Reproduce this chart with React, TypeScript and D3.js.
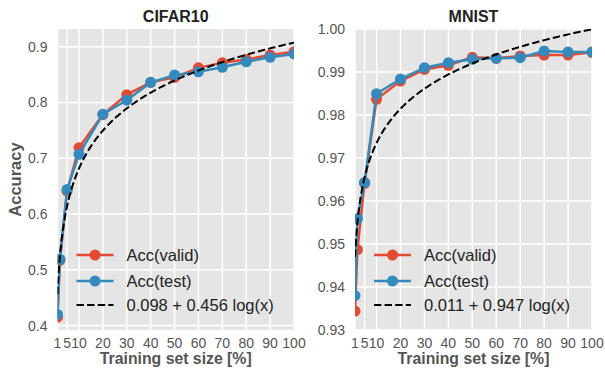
import React from "react";
import * as d3 from "d3";

// training set sizes in percent
const sizes = [1, 2, 5, 10, 20, 30, 40, 50, 60, 70, 80, 90, 100];
const xTicks = [1, 5, 10, 20, 30, 40, 50, 60, 70, 80, 90, 100];

const cifarValid = [0.415, 0.517, 0.641, 0.719, 0.778, 0.814, 0.836, 0.845, 0.862, 0.871, 0.877, 0.885, 0.891];
const cifarTest = [0.42, 0.519, 0.644, 0.707, 0.779, 0.804, 0.836, 0.849, 0.855, 0.863, 0.873, 0.881, 0.887];
const cifarTicks = [0.4, 0.5, 0.6, 0.7, 0.8, 0.9];
const cifarFit = { a: 0.456, b: 0.098, label: "0.098 + 0.456 log(x)" };

const mnistValid = [0.9344, 0.9487, 0.9641, 0.98365, 0.9879, 0.9906, 0.99156, 0.99342, 0.9932, 0.99372, 0.99395, 0.99395, 0.99458];
const mnistTest = [0.938, 0.9559, 0.9643, 0.98495, 0.98837, 0.991, 0.99216, 0.99295, 0.9932, 0.99333, 0.99488, 0.99465, 0.99465];
const mnistTicks = [0.93, 0.94, 0.95, 0.96, 0.97, 0.98, 0.99, 1.0];
const mnistFit = { a: 0.947, b: 0.0115, label: "0.011 + 0.947 log(x)" };

const RED = "#E24A33";
const BLUE = "#348ABD";
const FONT = "'Liberation Sans', Arial, Helvetica, sans-serif";

type PanelProps = {
  id: string;
  title: string;
  left: number;
  right: number;
  yDomain: [number, number];
  yTicks: number[];
  yFormat: string;
  valid: number[];
  test: number[];
  fit: { a: number; b: number; label: string };
  legendX: number;
  yLabel?: string;
};

const top = 29;
const bottom = 330;

const Panel = (p: PanelProps) => {
  const x = d3.scaleLinear().domain([1, 100]).range([p.left, p.right]);
  const y = d3.scaleLinear().domain(p.yDomain).range([bottom, top]);
  const fmt = d3.format(p.yFormat);

  const line = d3
    .line<number>()
    .x((_, i) => x(sizes[i]))
    .y((d) => y(d));

  // fitted curve a + b*ln(x)
  const fitXs = d3.range(1, 100.5, 0.5);
  const fitLine = d3
    .line<number>()
    .x((d) => x(d))
    .y((d) => y(p.fit.a + p.fit.b * Math.log(d)));

  const rows = [255, 281, 305];
  const lx = p.legendX;

  return (
    <g>
      <defs>
        <clipPath id={p.id}>
          <rect x={p.left} y={top} width={p.right - p.left} height={bottom - top} />
        </clipPath>
      </defs>
      <rect x={p.left} y={top} width={p.right - p.left} height={bottom - top} fill="#E5E5E5" />
      {xTicks.map((t) => (
        <line key={"gx" + t} x1={x(t)} x2={x(t)} y1={top} y2={bottom} stroke="#fff" strokeWidth={1.5} />
      ))}
      {p.yTicks.map((t) => (
        <line key={"gy" + t} x1={p.left} x2={p.right} y1={y(t)} y2={y(t)} stroke="#fff" strokeWidth={1.5} />
      ))}
      <g clipPath={`url(#${p.id})`}>
        <path d={line(p.valid) || ""} fill="none" stroke={RED} strokeWidth={2.5} />
        {p.valid.map((d, i) => (
          <circle key={"v" + i} cx={x(sizes[i])} cy={y(d)} r={5.5} fill={RED} />
        ))}
        <path d={line(p.test) || ""} fill="none" stroke={BLUE} strokeWidth={2.5} />
        {p.test.map((d, i) => (
          <circle key={"t" + i} cx={x(sizes[i])} cy={y(d)} r={5.5} fill={BLUE} />
        ))}
        <path d={fitLine(fitXs) || ""} fill="none" stroke="#000" strokeWidth={2} strokeDasharray="7.4,3.2" />
      </g>
      {/* tick labels */}
      {xTicks.map((t) => (
        <text key={"tx" + t} x={x(t)} y={348} textAnchor="middle" fontSize={14} fill="#555" fontFamily={FONT}>
          {t}
        </text>
      ))}
      {p.yTicks.map((t) => (
        <text key={"ty" + t} x={p.left - 10} y={y(t) + 5} textAnchor="end" fontSize={14} fill="#555" fontFamily={FONT}>
          {fmt(t)}
        </text>
      ))}
      <text x={(p.left + p.right) / 2} y={21.5} textAnchor="middle" fontSize={16} fontWeight="bold" fill="#222" fontFamily={FONT}>
        {p.title}
      </text>
      <text x={(p.left + p.right) / 2} y={364} textAnchor="middle" fontSize={15.8} fontWeight="bold" fill="#555" fontFamily={FONT}>
        Training set size [%]
      </text>
      {p.yLabel && (
        <text
          transform={`translate(21,${(top + bottom) / 2}) rotate(-90)`}
          textAnchor="middle"
          fontSize={16.5}
          fontWeight="bold"
          fill="#555"
          fontFamily={FONT}
        >
          {p.yLabel}
        </text>
      )}
      {/* legend */}
      <line x1={lx} x2={lx + 37} y1={rows[0]} y2={rows[0]} stroke={RED} strokeWidth={2.5} />
      <circle cx={lx + 18.5} cy={rows[0]} r={5.5} fill={RED} />
      <line x1={lx} x2={lx + 37} y1={rows[1]} y2={rows[1]} stroke={BLUE} strokeWidth={2.5} />
      <circle cx={lx + 18.5} cy={rows[1]} r={5.5} fill={BLUE} />
      <line x1={lx} x2={lx + 37} y1={rows[2]} y2={rows[2]} stroke="#000" strokeWidth={2} strokeDasharray="7.4,3.2" />
      {["Acc(valid)", "Acc(test)", p.fit.label].map((s, i) => (
        <text key={s} x={lx + 50} y={rows[i] + 6} fontSize={16.5} fill="#222" fontFamily={FONT}>
          {s}
        </text>
      ))}
    </g>
  );
};

export default function App() {
  return (
    <svg width={605} height={374} style={{ position: "absolute", left: 0, top: 0, background: "#fff" }}>
      <Panel
        id="clipA"
        title="CIFAR10"
        left={57.5}
        right={294}
        yDomain={[0.392, 0.9317]}
        yTicks={cifarTicks}
        yFormat=".1f"
        valid={cifarValid}
        test={cifarTest}
        fit={cifarFit}
        legendX={76.5}
        yLabel="Accuracy"
      />
      <Panel
        id="clipB"
        title="MNIST"
        left={355}
        right={592}
        yDomain={[0.93, 1.0]}
        yTicks={mnistTicks}
        yFormat=".2f"
        valid={mnistValid}
        test={mnistTest}
        fit={mnistFit}
        legendX={374}
      />
    </svg>
  );
}
